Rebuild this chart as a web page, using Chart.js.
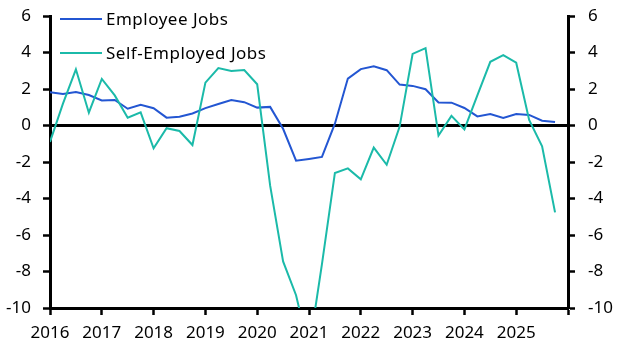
<!DOCTYPE html>
<html>
<head>
<meta charset="utf-8">
<script src="https://cdn.jsdelivr.net/npm/chart.js@4.4.1/dist/chart.umd.min.js"></script>
<style>
  html, body { margin: 0; padding: 0; background: #fff; }
</style>
</head>
<body>
<canvas id="chart" width="627" height="353"></canvas>
<script>
// quarterly data, 2016 Q1 .. 2025 Q4 (% y/y)
const quarters = [
  '2016Q1','2016Q2','2016Q3','2016Q4','2017Q1','2017Q2','2017Q3','2017Q4',
  '2018Q1','2018Q2','2018Q3','2018Q4','2019Q1','2019Q2','2019Q3','2019Q4',
  '2020Q1','2020Q2','2020Q3','2020Q4','2021Q1','2021Q2','2021Q3','2021Q4',
  '2022Q1','2022Q2','2022Q3','2022Q4','2023Q1','2023Q2','2023Q3','2023Q4',
  '2024Q1','2024Q2','2024Q3','2024Q4','2025Q1','2025Q2','2025Q3','2025Q4'
];
const employeeJobs = [
  1.82, 1.73, 1.84, 1.67, 1.37, 1.40, 0.92, 1.13,
  0.95, 0.43, 0.48, 0.66, 0.95, 1.18, 1.40, 1.28,
  0.98, 1.02, -0.18, -1.93, -1.83, -1.72, 0.10, 2.57,
  3.09, 3.25, 3.03, 2.24, 2.17, 1.99, 1.26, 1.25,
  0.96, 0.50, 0.63, 0.41, 0.63, 0.58, 0.26, 0.19
];
const selfEmployedJobs = [
  -0.9, 1.2, 3.08, 0.70, 2.55, 1.65, 0.43, 0.72,
  -1.25, -0.15, -0.30, -1.07, 2.35, 3.15, 2.99, 3.04,
  2.26, -3.3, -7.45, -9.3, -12.3, -7.6, -2.6, -2.35,
  -2.95, -1.21, -2.15, -0.06, 3.92, 4.24, -0.55, 0.53,
  -0.21, 1.65, 3.49, 3.86, 3.44, 0.30, -1.14, -4.76
];
const yearTicks = [2016, 2017, 2018, 2019, 2020, 2021, 2022, 2023, 2024, 2025];
const yTicks = [-10, -8, -6, -4, -2, 0, 2, 4, 6];

// '2016Q3' -> 2016.5
function qPos(q) {
  return parseInt(q.slice(0, 4), 10) + (parseInt(q.slice(5), 10) - 1) / 4;
}
function toPoints(vals) {
  return vals.map((v, i) => ({ x: qPos(quarters[i]), y: v }));
}

Chart.defaults.font.family = "'Noto Sans', sans-serif";
Chart.defaults.font.size = 17;
Chart.defaults.color = '#000';

const legendLines = {
  id: 'legendLines',
  afterDraw(chart) {
    const ctx = chart.ctx;
    chart.data.datasets.forEach((ds, i) => {
      const y = 19 + i * 34;
      ctx.save();
      ctx.strokeStyle = ds.borderColor;
      ctx.lineWidth = 2;
      ctx.beginPath();
      ctx.moveTo(60, y);
      ctx.lineTo(102, y);
      ctx.stroke();
      ctx.fillStyle = '#000';
      ctx.font = "17px 'Noto Sans', sans-serif";
      ctx.letterSpacing = '0.5px';
      ctx.textBaseline = 'alphabetic';
      ctx.fillText(ds.label, 106, y + 6);
      ctx.restore();
    });
  }
};

const tickGrid = {
  drawOnChartArea: false,
  drawTicks: true,
  tickLength: 7,
  tickColor: '#000',
  tickWidth: 2.5
};

// fixed axis sizes so the plot area sits where the original one does
function fitY(width) {
  return s => {
    s.width = width;
    s.paddingTop = 0;
    s.paddingBottom = 0;
  };
}

new Chart(document.getElementById('chart'), {
  type: 'line',
  data: {
    datasets: [{
      label: 'Employee Jobs',
      data: toPoints(employeeJobs),
      borderColor: '#2356d2',
      borderWidth: 2,
      pointRadius: 0,
      tension: 0,
      order: 1
    }, {
      label: 'Self-Employed Jobs',
      data: toPoints(selfEmployedJobs),
      borderColor: '#1bbaa9',
      borderWidth: 2,
      pointRadius: 0,
      tension: 0,
      order: 0
    }]
  },
  options: {
    responsive: false,
    animation: false,
    layout: { padding: { top: 16, left: 0, right: 0, bottom: 0 } },
    plugins: { legend: { display: false }, tooltip: { enabled: false } },
    scales: {
      x: {
        type: 'linear',
        min: 2016,
        max: 2026,
        afterFit: s => { s.height = 45; },
        afterBuildTicks: s => {
          s.ticks = yearTicks.concat([2026]).map(v => ({ value: v }));
        },
        border: { display: true, color: '#000', width: 3 },
        grid: tickGrid,
        ticks: {
          autoSkip: false,
          maxRotation: 0,
          padding: 8,
          callback: v => (yearTicks.includes(v) ? String(v) : '')
        }
      },
      y: {
        position: 'left',
        min: -10,
        max: 6,
        afterFit: fitY(50),
        afterBuildTicks: s => { s.ticks = yTicks.map(v => ({ value: v })); },
        border: { display: true, color: '#000', width: 3 },
        grid: {
          drawOnChartArea: true,
          drawTicks: true,
          tickLength: 7,
          tickColor: '#000',
          tickWidth: 2.5,
          color: c => (c.tick && c.tick.value === 0 ? '#000' : 'rgba(0,0,0,0)'),
          lineWidth: c => (c.tick && c.tick.value === 0 ? 3 : 1)
        },
        ticks: { padding: 12 }
      },
      y2: {
        position: 'right',
        min: -10,
        max: 6,
        afterFit: fitY(59),
        afterBuildTicks: s => { s.ticks = yTicks.map(v => ({ value: v })); },
        border: { display: true, color: '#000', width: 3 },
        grid: tickGrid,
        ticks: { padding: 13 }
      }
    }
  },
  plugins: [legendLines]
});
</script>
</body>
</html>
